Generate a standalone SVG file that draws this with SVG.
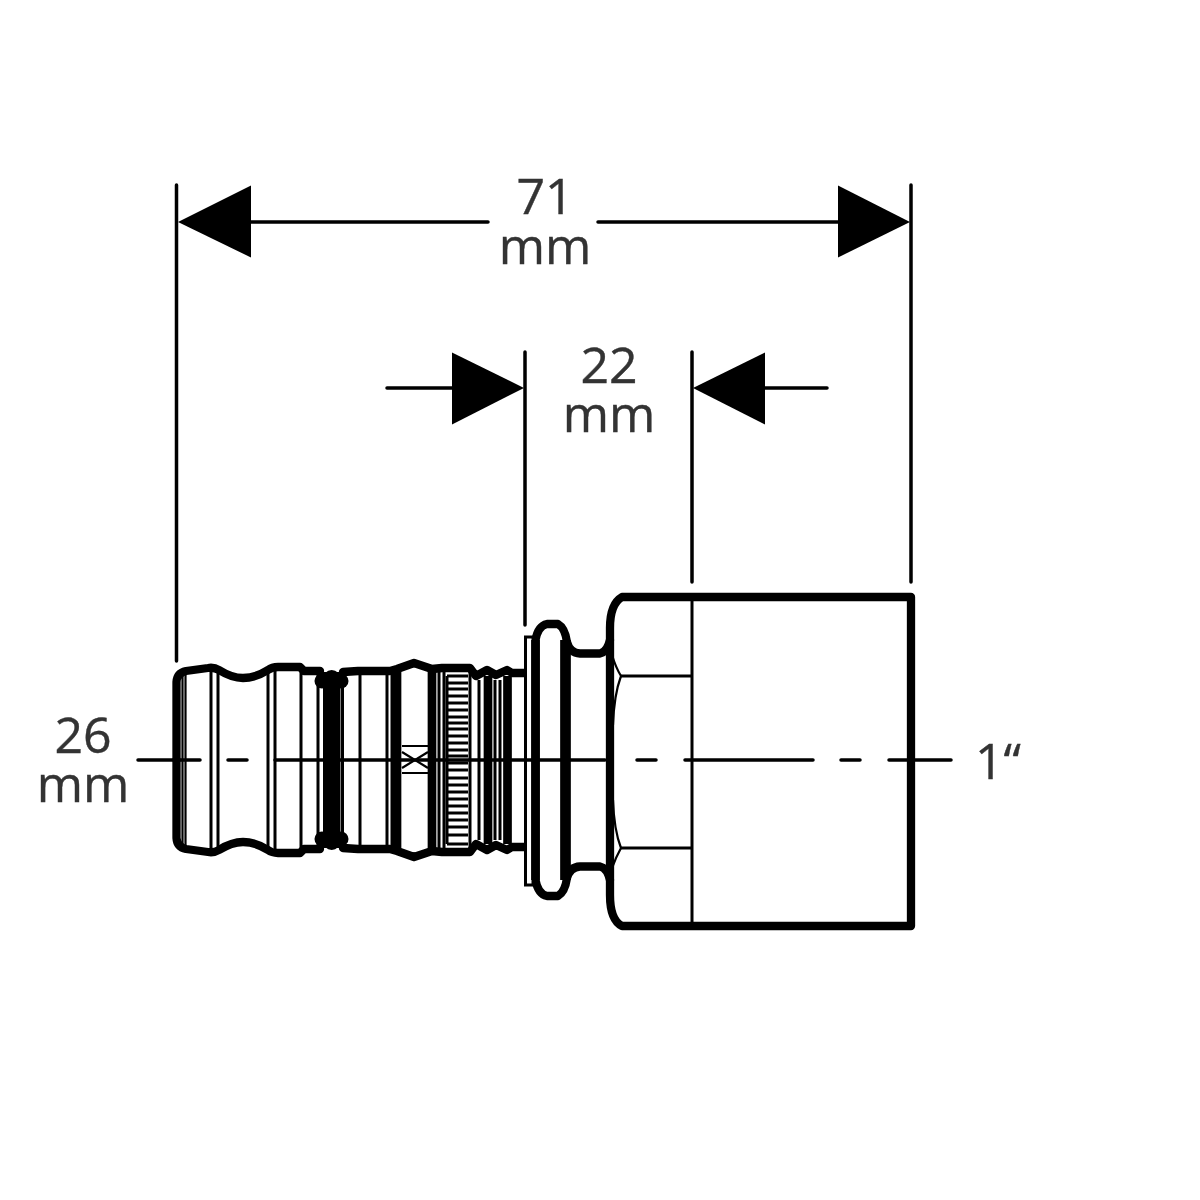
<svg xmlns="http://www.w3.org/2000/svg" width="1200" height="1200" viewBox="0 0 1200 1200">
<style>
.o{fill:none;stroke:#000;stroke-width:8.300;stroke-linecap:round;stroke-linejoin:round}
.t{fill:none;stroke:#000;stroke-width:3;stroke-linecap:butt}
.f{fill:none;stroke:#000;stroke-width:2.200;stroke-linecap:butt}
.d{fill:none;stroke:#000;stroke-width:3.500;stroke-linecap:round}
.k{fill:none;stroke:#000;stroke-width:8.700;stroke-linecap:butt}
.a{fill:#000}
text{font-family:"Open Sans","Noto Sans",sans-serif;font-size:50px;fill:#333;text-anchor:middle;stroke:#333;stroke-width:.4}
</style>
<defs>
<g id="half">
<path class="o" d="M176.500 760V682Q177 673 186 671L208 668Q214 667 219 670C227 675 235 678 243 678C252 678 260 675 268 670Q272 667 278 667L300 667L304 671L320 671"/>
<path class="o" d="M343 672L358 671L390 671L397 669L414 663L432 669L442 668L470 668L476 676L487 670L496 675L507 670L512 673L524 673"/>
<path class="o" d="M535.500 760V640Q538 626 547 624L558 624Q565 628 567 642Q570 653 580 653.500L600 653.500Q607 652 610 640"/>
<circle class="a" cx="322" cy="681" r="7.500"/><circle class="a" cx="341" cy="681" r="7.500"/><circle class="a" cx="331.700" cy="679" r="9"/>
</g>
</defs>
<g id="fitting">
<use href="#half"/>
<use href="#half" transform="matrix(1 0 0 -1 0 1520)"/>
<path class="o" d="M622 597H911V926H622Q610 920 610 895V628Q610 604 622 597Z"/>
<path class="t" d="M692 597V926"/>
<path class="t" d="M621 676H692M621 848H692"/>
<path class="f" d="M612 655Q616 668 621 676Q614 695 613 725M612 868Q616 857 621 848Q614 830 613 800"/>
<path class="f" d="M182.500 676V844M185.500 674V846"/>
<path class="t" d="M211 668V852M218 670V850M268 670V850M275 668V852M301 668V852M318 672V848M342.500 672V848M360 672V848M387 672V848M392 672V848M439 668V852M444 668V852M479 680V840M495 680V840M500 680V840"/>
<path class="k" d="M397 672V848M432 672V848M488 676V844M507.500 676V844"/>
<rect x="323" y="672" width="17.500" height="176" class="a"/>
<rect x="525.500" y="637" width="7.500" height="248" fill="#fff" stroke="#000" stroke-width="3"/>
<path class="k" d="M535.500 640V880"/>
<path style="fill:none;stroke:#000;stroke-width:10.700" d="M565.500 640V880"/>
<path class="t" d="M470 672V848M447 676H468M447 844H468M447 676V844"/>
<path class="f" style="stroke-width:3" d="M448 683H468M448 689H468M448 696H468M448 703H468M448 710H468M448 717H468M448 723H468M448 729H468M448 736H468M448 743H468M448 750H468M448 756H468M448 763H468M448 770H468M448 778H468M448 785H468M448 792H468M448 799H468M448 806H468M448 813H468M448 820H468M448 827H468M448 835H468"/>
<path class="f" d="M402 746H428M402 773H428M402 752L428 768M402 768L428 752"/>
</g>
<g id="connectors">
<path class="d" d="M138 760H200M228 760H247M275 760H605M637 760H656M685 760H813M841 760H860M889 760H951"/>
<path class="d" d="M176.500 185V661M911 185V582M525 352V625M692 352V582"/>
<path class="d" d="M240 222H488M598 222H850M387 388H460M755 388H827"/>
<polygon class="a" points="178,222 251,185.500 251,257.500"/>
<polygon class="a" points="910,222 838,185.500 838,257.500"/>
<polygon class="a" points="524,388 452,352.500 452,424.500"/>
<polygon class="a" points="693,388 765,352.500 765,424.500"/>
</g>
<g id="labels">
<text x="545" y="214">71<tspan x="545" y="264">mm</tspan></text>
<text x="609" y="383">22<tspan x="609" y="432">mm</tspan></text>
<text x="83" y="753">26<tspan x="83" y="802">mm</tspan></text>
<text x="998" y="779">1“</text>
</g>
</svg>
